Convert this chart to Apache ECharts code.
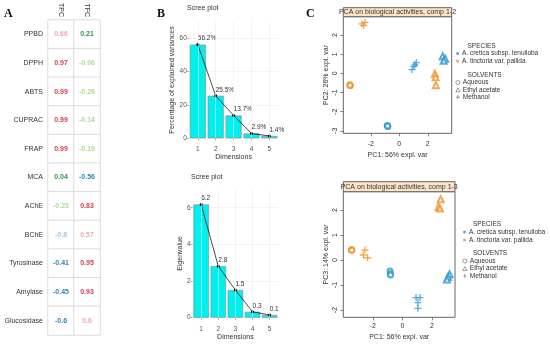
<!DOCTYPE html>
<html><head><meta charset="utf-8">
<script src="https://cdn.jsdelivr.net/npm/echarts@6/dist/echarts.min.js"></script>
<style>html,body{margin:0;padding:0;background:#fff}#c{width:550px;height:345px}</style>
</head><body><div id="c"></div>
<script>
// ---- Panel A: correlations ----
const activities = ['PPBD','DPPH','ABTS','CUPRAC','FRAP','MCA','AChE','BChE','Tyrosinase','Amylase','Glucosidase'];
const phenolics = ['TPC','TFC'];
const tpcCorr = [0.66,0.97,0.99,0.99,0.99,0.04,-0.23,-0.8,-0.41,-0.45,-0.6];
const tfcCorr = [0.21,-0.06,-0.26,-0.14,-0.19,-0.56,0.83,0.57,0.95,0.93,0.6];
// ---- Panel B: scree plots ----
const dims = ['1','2','3','4','5'];
const explainedPct = [56.2,25.5,13.7,2.9,1.4];
const eigenvalues = [6.18,2.81,1.51,0.32,0.15];
const pctTicks = [0,20,40,60];
const eigTicks = [0,2,4,6];
// ---- Panel C: PCA scores ----
const pc1Ticks = [-2,0,2];
const pc2Ticks = [-3,-2,-1,0,1,2];
const pc3Ticks = [-2,-1,0,1,2];
const species = ['A. cretica subsp. tenuiloba','A. tinctoria var. pallida'];
const solvents = ['Aqueous','Ethyl acetate','Methanol'];
// comp 1-2 (PC1, PC2)
const creticaAqueous12 = [[-0.85,-2.72],[-0.80,-2.77],[-0.82,-2.75]];
const creticaEthyl12 = [[3.05,0.90],[3.22,0.76],[3.12,0.66]];
const creticaMethanol12 = [[0.90,0.20],[1.02,0.36],[1.10,0.45],[1.20,0.56]];
const tinctoriaAqueous12 = [[-3.47,-0.60],[-3.44,-0.64],[-3.46,-0.62]];
const tinctoriaEthyl12 = [[2.50,-0.02],[2.55,-0.20],[2.57,-0.62]];
const tinctoriaMethanol12 = [[-2.62,2.58],[-2.40,2.66],[-2.50,2.50]];
// comp 1-3 (PC1, PC3)
const creticaAqueous13 = [[-0.83,-0.44],[-0.82,-0.55],[-0.80,-0.60]];
const creticaEthyl13 = [[3.20,-0.57],[3.10,-0.68],[3.02,-0.78]];
const creticaMethanol13 = [[0.93,-1.50],[1.20,-1.50],[1.06,-1.70],[1.06,-1.93]];
const tinctoriaAqueous13 = [[-3.43,0.40],[-3.45,0.41],[-3.42,0.39]];
const tinctoriaEthyl13 = [[2.60,2.43],[2.45,2.12],[2.55,2.06]];
const tinctoriaMethanol13 = [[-2.53,0.40],[-2.64,0.20],[-2.35,0.09]];

const FONT = 'Liberation Sans, Arial, sans-serif';
const BLUE = '#2c97d1', ORANGE = '#f0912e';
const PLUS = 'path://M4.1,0H5.9V4.1H10V5.9H5.9V10H4.1V5.9H0V4.1H4.1Z';

function corrColor(v){
  if (v >= 0.8) return '#d8414f';
  if (v >= 0.5) return '#f1aab0';
  if (v >= 0) return '#2f9a47';
  if (v > -0.3) return '#aedb98';
  if (v > -0.7) return '#2f86b4';
  return '#9ccbe6';
}
const heatData = [];
activities.forEach((a,i)=>{
  [tpcCorr[i], tfcCorr[i]].forEach((v,j)=>{
    heatData.push({value:[j,i,v], label:{color:corrColor(v)}});
  });
});

const groups = [
  {name:'cA', d12:creticaAqueous12, d13:creticaAqueous13, color:BLUE, symbol:'emptyCircle', size:5},
  {name:'cE', d12:creticaEthyl12, d13:creticaEthyl13, color:BLUE, symbol:'emptyTriangle', size:6},
  {name:'cM', d12:creticaMethanol12, d13:creticaMethanol13, color:BLUE, symbol:PLUS, size:7},
  {name:'tA', d12:tinctoriaAqueous12, d13:tinctoriaAqueous13, color:ORANGE, symbol:'emptyCircle', size:5},
  {name:'tE', d12:tinctoriaEthyl12, d13:tinctoriaEthyl13, color:ORANGE, symbol:'emptyTriangle', size:6},
  {name:'tM', d12:tinctoriaMethanol12, d13:tinctoriaMethanol13, color:ORANGE, symbol:PLUS, size:7}
];

function screeX(gi, offset){
  return {type:'category', gridIndex:gi, data:dims, boundaryGap:true, offset:offset,
    axisLine:{show:false}, axisTick:{show:true, alignWithLabel:true, length:2, lineStyle:{color:'#777', width:0.6}},
    axisLabel:{fontSize:6.5, color:'#555', margin:3, fontFamily:FONT},
    name:'Dimensions', nameLocation:'middle', nameGap:11, nameTextStyle:{fontSize:7, color:'#333', fontFamily:FONT},
    splitLine:{show:false}};
}
function screeY(gi, max, ticks, name, gap){
  return {type:'value', gridIndex:gi, min:0, max:max, interval:max/7,
    axisLine:{show:false},
    axisTick:{show:true, length:2, customValues:ticks, lineStyle:{color:'#777', width:0.6}},
    axisLabel:{customValues:ticks, fontSize:6.5, color:'#555', margin:2, fontFamily:FONT},
    splitLine:{show:true, lineStyle:{color:'#ececec', width:0.6}},
    name:name, nameLocation:'middle', nameGap:gap, nameTextStyle:{fontSize:7, color:'#333', fontFamily:FONT}};
}
function pcaX(gi, min, max, margin, gap){
  return {type:'value', gridIndex:gi, min:min, max:max,
    axisLine:{show:false, onZero:false}, splitLine:{show:false},
    axisTick:{show:true, length:3, customValues:pc1Ticks, lineStyle:{color:'#555', width:0.7}},
    axisLabel:{customValues:pc1Ticks, fontSize:7, color:'#333', margin:margin, fontFamily:FONT},
    name:'PC1: 56% expl. var', nameLocation:'middle', nameGap:gap, nameTextStyle:{fontSize:7, color:'#333', fontFamily:FONT}};
}
function pcaY(gi, min, max, ticks, name){
  return {type:'value', gridIndex:gi, min:min, max:max,
    axisLine:{show:false, onZero:false}, splitLine:{show:false},
    axisTick:{show:true, length:3, customValues:ticks, lineStyle:{color:'#555', width:0.7}},
    axisLabel:{customValues:ticks, rotate:90, fontSize:7, color:'#333', margin:5, fontFamily:FONT},
    name:name, nameLocation:'middle', nameGap:14, nameTextStyle:{fontSize:7, color:'#333', fontFamily:FONT}};
}

const series = [
  {type:'heatmap', xAxisIndex:0, yAxisIndex:0, data:heatData,
   itemStyle:{color:'#fff', borderColor:'#dcdcdc', borderWidth:1},
   label:{show:true, fontSize:7, fontWeight:'bold', fontFamily:FONT, formatter:p=>String(p.value[2])},
   emphasis:{disabled:true}},
  {type:'line', xAxisIndex:1, yAxisIndex:1, data:[], z:0, silent:true,
   markLine:{silent:true, symbol:'none', label:{show:false}, lineStyle:{color:'#ececec', width:0.6, type:'solid'},
     data:dims.map(d=>({xAxis:d}))}},
  {type:'bar', xAxisIndex:1, yAxisIndex:1, data:explainedPct, barWidth:16, z:2,
   itemStyle:{color:'#00f0f0', borderColor:'#8a8a8a', borderWidth:0.6}},
  {type:'line', xAxisIndex:1, yAxisIndex:1, data:explainedPct, z:3, symbol:'circle', symbolSize:3,
   lineStyle:{color:'#000', width:0.7}, itemStyle:{color:'#000'},
   label:{show:true, position:'top', align:'left', distance:1, fontSize:6.5, color:'#333', fontFamily:FONT,
     formatter:p=>p.value.toFixed(1)+'%'}},
  {type:'line', xAxisIndex:2, yAxisIndex:2, data:[], z:0, silent:true,
   markLine:{silent:true, symbol:'none', label:{show:false}, lineStyle:{color:'#ececec', width:0.6, type:'solid'},
     data:dims.map(d=>({xAxis:d}))}},
  {type:'bar', xAxisIndex:2, yAxisIndex:2, data:eigenvalues, barWidth:15.5, z:2,
   itemStyle:{color:'#00f0f0', borderColor:'#8a8a8a', borderWidth:0.6}},
  {type:'line', xAxisIndex:2, yAxisIndex:2, data:eigenvalues, z:3, symbol:'circle', symbolSize:3,
   lineStyle:{color:'#000', width:0.7}, itemStyle:{color:'#000'},
   label:{show:true, position:'top', align:'left', distance:1, fontSize:6.5, color:'#333', fontFamily:FONT,
     formatter:p=>p.value.toFixed(1)}},
];
groups.forEach(g=>{
  [['d12',3],['d13',4]].forEach(([k,idx])=>{
    series.push({type:'scatter', name:g.name+k, xAxisIndex:idx, yAxisIndex:idx, data:g[k],
      symbol:g.symbol, symbolSize:g.size, z:3,
      itemStyle:{color:g.color, borderColor:g.color, borderWidth:g.symbol===PLUS?0:0.9, opacity:0.8}});
  });
});
species.forEach((s,i)=>{
  series.push({type:'scatter', name:s, xAxisIndex:3, yAxisIndex:3, data:[], symbol:'circle',
    itemStyle:{color:i===0?BLUE:ORANGE}});
});
['emptyCircle','emptyTriangle',PLUS].forEach((sym,i)=>{
  series.push({type:'scatter', name:solvents[i], xAxisIndex:3, yAxisIndex:3, data:[], symbol:sym,
    itemStyle:{color:'#555', borderColor:'#555', borderWidth:0.7}});
});

const solventIcons = [
  {icon:'circle', itemStyle:{color:'#fff', borderColor:'#555', borderWidth:0.7}},
  {icon:'triangle', itemStyle:{color:'#fff', borderColor:'#555', borderWidth:0.7}},
  {icon:PLUS, itemStyle:{color:'#555', borderWidth:0}}
];
function legendBlock(left, top, names, icons, w, gap){
  return {orient:'vertical', left:left, top:top, selectedMode:false, itemGap:gap, itemWidth:w, itemHeight:w,
    padding:0, data:names.map((n,i)=>Object.assign({name:n}, icons[i])),
    textStyle:{fontSize:6.5, lineHeight:7, color:'#333', fontFamily:FONT, padding:[0,0,0,-2]}};
}
const speciesIcons = [{icon:'circle', itemStyle:{color:BLUE, borderWidth:0}}, {icon:'circle', itemStyle:{color:ORANGE, borderWidth:0}}];

const option = {
  animation:false,
  textStyle:{fontFamily:FONT},
  grid:[
    {left:48, top:19, width:52, height:316},
    {left:188.85, top:21.6, width:89.5, height:116.7},
    {left:192.6, top:189.4, width:85.6, height:128.3},
    {left:343.3, top:16.7, width:108.4, height:116.6, show:true, borderColor:'#666', borderWidth:1},
    {left:343.3, top:191.7, width:111.7, height:125.6, show:true, borderColor:'#666', borderWidth:1}
  ],
  xAxis:[
    {type:'category', gridIndex:0, data:phenolics, position:'top', axisLine:{show:false}, axisTick:{show:false},
     axisLabel:{rotate:90, fontSize:7, color:'#333', margin:3, fontFamily:FONT}},
    screeX(1, 4),
    screeX(2, 5),
    pcaX(3, -3.93, 3.68, 7, 18),
    pcaX(4, -4.0, 3.57, 5, 16)
  ],
  yAxis:[
    {type:'category', gridIndex:0, data:activities, inverse:true, axisLine:{show:false}, axisTick:{show:false},
     axisLabel:{fontSize:7, color:'#333', margin:5, fontFamily:FONT}},
    screeY(1, 70, pctTicks, 'Percentage of explained variances', 6),
    screeY(2, 7, eigTicks, 'Eigenvalue', 6),
    pcaY(3, -3.13, 2.96, pc2Ticks, 'PC2: 26% expl. var'),
    pcaY(4, -2.29, 2.73, pc3Ticks, 'PC3: 14% expl. var')
  ],
  legend:[
    legendBlock(456, 50, species, speciesIcons, 3, 0.5),
    legendBlock(455.5, 79, solvents, solventIcons, 4, 0.3),
    legendBlock(463, 228.5, species, speciesIcons, 3, 1),
    legendBlock(462.5, 257.5, solvents, solventIcons, 4, 0.5)
  ],
  series:series,
  graphic:[
    {type:'text', left:4, top:8, style:{text:'A', font:'bold 12px "Liberation Serif", serif', fill:'#111'}},
    {type:'text', left:157, top:8, style:{text:'B', font:'bold 12px "Liberation Serif", serif', fill:'#111'}},
    {type:'text', left:306, top:8, style:{text:'C', font:'bold 12px "Liberation Serif", serif', fill:'#111'}},
    {type:'text', left:187, top:5, style:{text:'Scree plot', fontSize:7, fill:'#333', fontFamily:FONT}},
    {type:'text', left:191, top:173.5, style:{text:'Scree plot', fontSize:7, fill:'#333', fontFamily:FONT}},
    {type:'rect', shape:{x:343.3, y:7.7, width:108.4, height:9}, style:{fill:'#fde4c6', stroke:'#666', lineWidth:1}},
    {type:'text', x:397.5, y:12.4, style:{text:'PCA on biological activities, comp 1-2', fontSize:7, fill:'#333', fontFamily:FONT, align:'center', verticalAlign:'middle'}},
    {type:'rect', shape:{x:343.3, y:181.7, width:111.7, height:10}, style:{fill:'#fde4c6', stroke:'#666', lineWidth:1}},
    {type:'text', x:399.2, y:186.9, style:{text:'PCA on biological activities, comp 1-3', fontSize:7, fill:'#333', fontFamily:FONT, align:'center', verticalAlign:'middle'}},
    {type:'text', x:467.5, y:46.5, style:{text:'SPECIES', fontSize:6.5, fill:'#333', fontFamily:FONT, verticalAlign:'middle'}},
    {type:'text', x:467.5, y:75.5, style:{text:'SOLVENTS', fontSize:6.5, fill:'#333', fontFamily:FONT, verticalAlign:'middle'}},
    {type:'text', x:473, y:224.5, style:{text:'SPECIES', fontSize:6.5, fill:'#333', fontFamily:FONT, verticalAlign:'middle'}},
    {type:'text', x:473, y:253.5, style:{text:'SOLVENTS', fontSize:6.5, fill:'#333', fontFamily:FONT, verticalAlign:'middle'}}
  ]
};
const chart = echarts.init(document.getElementById('c'), null, {renderer:'canvas'});
chart.setOption(option);
</script></body></html>
